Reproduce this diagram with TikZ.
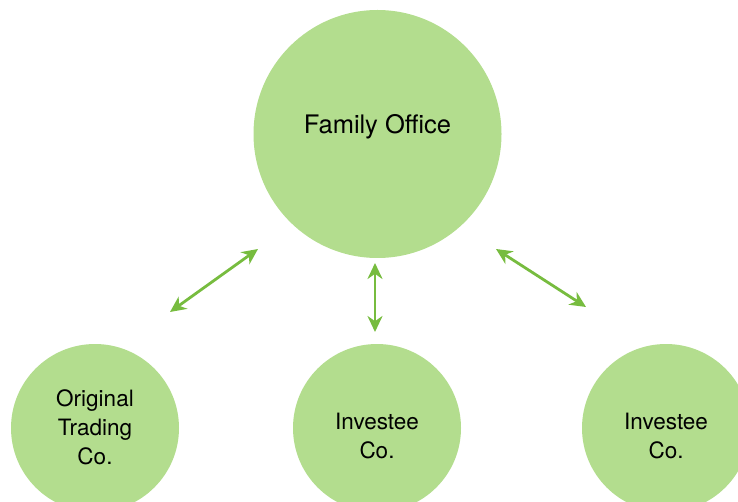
\documentclass[tikz,border=0pt]{standalone}
\usepackage{fontspec}
\setmainfont{TeX Gyre Heros}
\usetikzlibrary{arrows.meta}
\definecolor{circfill}{HTML}{B3DD8E}
\definecolor{arrgreen}{HTML}{77BC3F}
\begin{document}
\begin{tikzpicture}[x=1pt,y=-1pt,
  bigcirc/.style={circle,fill=circfill,draw=none,minimum size=248pt,inner sep=0pt,font=\fontsize{25.5}{30}\selectfont},
  smallcirc/.style={circle,fill=circfill,draw=none,minimum size=168pt,inner sep=0pt,font=\fontsize{22.5}{29}\selectfont},
  lbl/.style={align=center,inner sep=0pt,font=\fontsize{22.5}{29}\selectfont},
  link/.style={draw=arrgreen,line width=2.8pt,{Stealth[length=16pt,width=15pt]}-{Stealth[length=16pt,width=15pt]}}]
\useasboundingbox (0,0) rectangle (738,502);
\begin{scope}
\clip (0,0) rectangle (738,502);
\node[bigcirc] (fo) at (377.5,134) {};
\node[smallcirc] (otc) at (95,428) {};
\node[smallcirc] (inv1) at (377,428) {};
\node[smallcirc] (inv2) at (666,428) {};
\end{scope}
\node[inner sep=0pt,font=\fontsize{25.5}{30}\selectfont] (fot) at (377.5,127) {Family Office};
\node[lbl] (otct) at (95,427) {Original\\Trading\\Co.};
\node[lbl] (inv1t) at (377,436) {Investee\\Co.};
\node[lbl] (inv2t) at (666,436) {Investee\\Co.};
\coordinate (a1) at (258,249);
\coordinate (a2) at (170,312);
\coordinate (b1) at (375,263);
\coordinate (b2) at (375,332);
\coordinate (c1) at (496,249);
\coordinate (c2) at (586,307);
\draw[link] (a2) -- (a1);
\draw[link] (b2) -- (b1);
\draw[link] (c2) -- (c1);
\end{tikzpicture}
\end{document}
